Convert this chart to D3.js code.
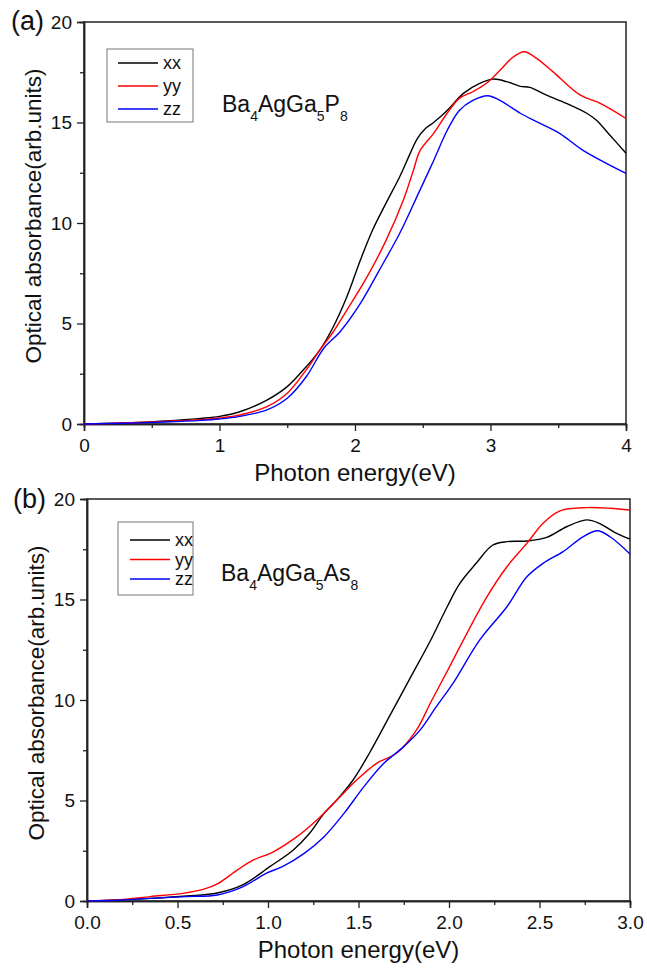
<!DOCTYPE html>
<html>
<head>
<meta charset="utf-8">
<script src="https://cdn.jsdelivr.net/npm/d3@7"></script>
<style>
  body { margin: 0; background: #fff; }
  svg { display: block; font-family: Arial, "Liberation Sans", sans-serif; }
</style>
</head>
<body>
<div id="container"></div>
<script>
// (a) Ba4AgGa5P8 : [energy eV, absorbance]
const pXX = [[0,0],[0.3,0.05],[0.6,0.15],[0.86,0.28],[1.0,0.38],[1.15,0.61],[1.35,1.19],[1.5,1.86],[1.64,2.85],[1.74,3.68],[1.84,4.84],[1.94,6.33],[2.04,8.16],[2.13,9.65],[2.23,11.0],[2.33,12.3],[2.41,13.5],[2.46,14.2],[2.52,14.7],[2.58,15.0],[2.68,15.6],[2.8,16.45],[2.92,16.95],[3.02,17.16],[3.12,17.03],[3.22,16.8],[3.29,16.75],[3.41,16.37],[3.56,15.95],[3.71,15.46],[3.78,15.12],[3.88,14.38],[4.0,13.47]];
const pYY = [[0,0],[0.3,0.05],[0.6,0.13],[0.86,0.22],[1.0,0.3],[1.15,0.45],[1.35,0.86],[1.5,1.53],[1.64,2.69],[1.74,3.68],[1.84,4.59],[1.94,5.67],[2.09,7.33],[2.23,9.15],[2.36,11.2],[2.43,12.6],[2.48,13.6],[2.58,14.46],[2.68,15.46],[2.77,16.2],[2.87,16.53],[2.97,16.95],[3.07,17.6],[3.17,18.27],[3.25,18.52],[3.34,18.19],[3.46,17.53],[3.66,16.37],[3.81,15.95],[4.0,15.2]];
const pZZ = [[0,0],[0.3,0.04],[0.6,0.1],[0.86,0.18],[1.0,0.25],[1.15,0.38],[1.35,0.7],[1.5,1.28],[1.64,2.35],[1.77,3.77],[1.89,4.59],[2.04,6.0],[2.18,7.66],[2.33,9.49],[2.47,11.5],[2.58,13.1],[2.68,14.6],[2.77,15.6],[2.87,16.1],[2.98,16.33],[3.07,16.1],[3.22,15.46],[3.34,15.04],[3.51,14.46],[3.68,13.63],[4.0,12.47]];

// (b) Ba4AgGa5As8
const aXX = [[0,0],[0.2,0.06],[0.35,0.13],[0.55,0.25],[0.72,0.4],[0.86,0.8],[1.01,1.71],[1.14,2.54],[1.23,3.37],[1.31,4.36],[1.38,5.02],[1.47,6.02],[1.56,7.35],[1.67,9.17],[1.78,11.0],[1.9,13.0],[1.99,14.64],[2.06,15.8],[2.15,16.8],[2.24,17.7],[2.32,17.88],[2.43,17.91],[2.54,18.09],[2.65,18.62],[2.76,18.96],[2.83,18.79],[2.91,18.37],[3.0,18.0]];
const aYY = [[0,0],[0.2,0.08],[0.35,0.22],[0.53,0.38],[0.65,0.6],[0.72,0.85],[0.83,1.54],[0.92,2.04],[1.03,2.45],[1.16,3.2],[1.27,4.03],[1.38,5.02],[1.49,6.02],[1.6,6.85],[1.71,7.35],[1.82,8.5],[1.9,9.9],[2.0,11.6],[2.08,12.99],[2.21,15.14],[2.32,16.63],[2.43,17.79],[2.52,18.79],[2.61,19.4],[2.76,19.57],[2.89,19.54],[3.0,19.45]];
const aZZ = [[0,0],[0.2,0.05],[0.35,0.13],[0.55,0.22],[0.72,0.3],[0.86,0.7],[0.99,1.38],[1.08,1.71],[1.2,2.37],[1.31,3.2],[1.42,4.36],[1.53,5.69],[1.64,6.85],[1.75,7.68],[1.84,8.5],[1.93,9.67],[2.02,10.8],[2.17,12.99],[2.32,14.64],[2.43,16.13],[2.52,16.8],[2.63,17.38],[2.74,18.12],[2.82,18.42],[2.89,18.12],[3.0,17.26]];

const seriesNames = ['xx', 'yy', 'zz'];
const seriesColors = ['#000000', '#ff0000', '#0000ff'];
const yTicks = [0, 5, 10, 15, 20];
const xTicksA = [0, 1, 2, 3, 4];
const xTicksB = [0, 0.5, 1.0, 1.5, 2.0, 2.5, 3.0];

const svg = d3.select('#container')
  .append('svg')
  .attr('width', 647)
  .attr('height', 969);

const drawPanel = (p) => {
  const x = d3.scaleLinear().domain(p.xDomain).range([p.left, p.right]);
  const y = d3.scaleLinear().domain([0, 20]).range([p.bottom, p.top]);
  const g = svg.append('g');

  // frame
  g.append('rect')
    .attr('x', p.left).attr('y', p.top)
    .attr('width', p.right - p.left).attr('height', p.bottom - p.top)
    .attr('fill', 'none').attr('stroke', '#222').attr('stroke-width', 1.5);

  const xAxis = d3.axisBottom(x).tickValues(p.xTicks).tickFormat(p.fmt).tickSize(7).tickPadding(8);
  const xMinor = d3.axisBottom(x).tickValues(p.xMinor).tickFormat('').tickSize(4);
  const yAxis = d3.axisLeft(y).tickValues(yTicks).tickFormat(d3.format('d')).tickSize(7).tickPadding(5);
  const yMinor = d3.axisLeft(y).tickValues([2.5, 7.5, 12.5, 17.5]).tickFormat('').tickSize(4);

  [[xAxis, 'x'], [xMinor, 'x'], [yAxis, 'y'], [yMinor, 'y']].forEach(([ax, k]) => {
    const a = g.append('g')
      .attr('transform', k === 'x' ? `translate(0,${p.bottom})` : `translate(${p.left},0)`)
      .call(ax);
    a.select('.domain').attr('stroke', '#222').attr('stroke-width', 1.5);
    a.selectAll('line').attr('stroke', '#222').attr('stroke-width', 1.3);
    a.selectAll('text').attr('fill', '#111').style('font-size', '19px')
      .style('font-family', 'Arial, "Liberation Sans", sans-serif');
  });

  const line = d3.line()
    .x(d => x(d[0]))
    .y(d => y(d[1]))
    .curve(d3.curveCatmullRom.alpha(0.5));

  p.series.forEach((s, i) => {
    g.append('path')
      .datum(s)
      .attr('fill', 'none')
      .attr('stroke', seriesColors[i])
      .attr('stroke-width', 1.4)
      .attr('d', line);
  });

  // legend
  const lg = g.append('g').attr('transform', `translate(${p.legX},${p.legY})`);
  lg.append('rect')
    .attr('width', p.legW).attr('height', 73)
    .attr('fill', '#fff').attr('stroke', '#777').attr('stroke-width', 1);
  seriesNames.forEach((n, i) => {
    const yy = p.legRow0 + i * p.legStep;
    lg.append('line')
      .attr('x1', p.legLine[0]).attr('x2', p.legLine[1])
      .attr('y1', yy).attr('y2', yy)
      .attr('stroke', seriesColors[i]).attr('stroke-width', 1.4);
    lg.append('text')
      .attr('x', p.legLine[1] + 5).attr('y', yy + 6)
      .style('font-size', '18px').attr('fill', '#111')
      .text(n);
  });

  // compound label, subscripts dropped below the baseline
  const drop = 9;
  const t = g.append('text')
    .attr('x', p.labX).attr('y', p.labY)
    .style('font-size', '23px').attr('fill', '#111');
  p.formula.forEach(([txt, sub], i) => {
    t.append('tspan').attr('dy', i === 0 ? 0 : -drop).text(txt);
    t.append('tspan').attr('dy', drop).style('font-size', '14px').text(sub);
  });

  // panel letter
  g.append('text')
    .attr('x', p.tagX).attr('y', p.tagY)
    .style('font-size', '27px').attr('fill', '#111')
    .text(p.tag);

  // axis titles
  g.append('text')
    .attr('transform', `translate(${p.left - 43},${(p.top + p.bottom) / 2 - 7}) rotate(-90)`)
    .attr('text-anchor', 'middle')
    .style('font-size', '22.5px').attr('fill', '#111')
    .text('Optical absorbance(arb.units)');
  g.append('text')
    .attr('x', (p.left + p.right) / 2).attr('y', p.bottom + 57)
    .attr('text-anchor', 'middle')
    .style('font-size', '24px').attr('fill', '#111')
    .text('Photon energy(eV)');
};

drawPanel({
  xDomain: [0, 4], left: 84, right: 626, top: 22, bottom: 424,
  xTicks: xTicksA, xMinor: [0.5, 1.5, 2.5, 3.5], fmt: d3.format('d'),
  series: [pXX, pYY, pZZ],
  legX: 107, legY: 49, legW: 86, legLine: [11, 51], legRow0: 14, legStep: 23,
  labX: 222, labY: 112, formula: [['Ba', '4'], ['AgGa', '5'], ['P', '8']],
  tag: '(a)', tagX: 11, tagY: 30
});

drawPanel({
  xDomain: [0, 3], left: 87, right: 630, top: 499, bottom: 901,
  xTicks: xTicksB, xMinor: [0.25, 0.75, 1.25, 1.75, 2.25, 2.75], fmt: d3.format('.1f'),
  series: [aXX, aYY, aZZ],
  legX: 118, legY: 522, legW: 75, legLine: [12, 52], legRow0: 18, legStep: 19.5,
  labX: 221, labY: 581, formula: [['Ba', '4'], ['AgGa', '5'], ['As', '8']],
  tag: '(b)', tagX: 13, tagY: 508
});
</script>
</body>
</html>
